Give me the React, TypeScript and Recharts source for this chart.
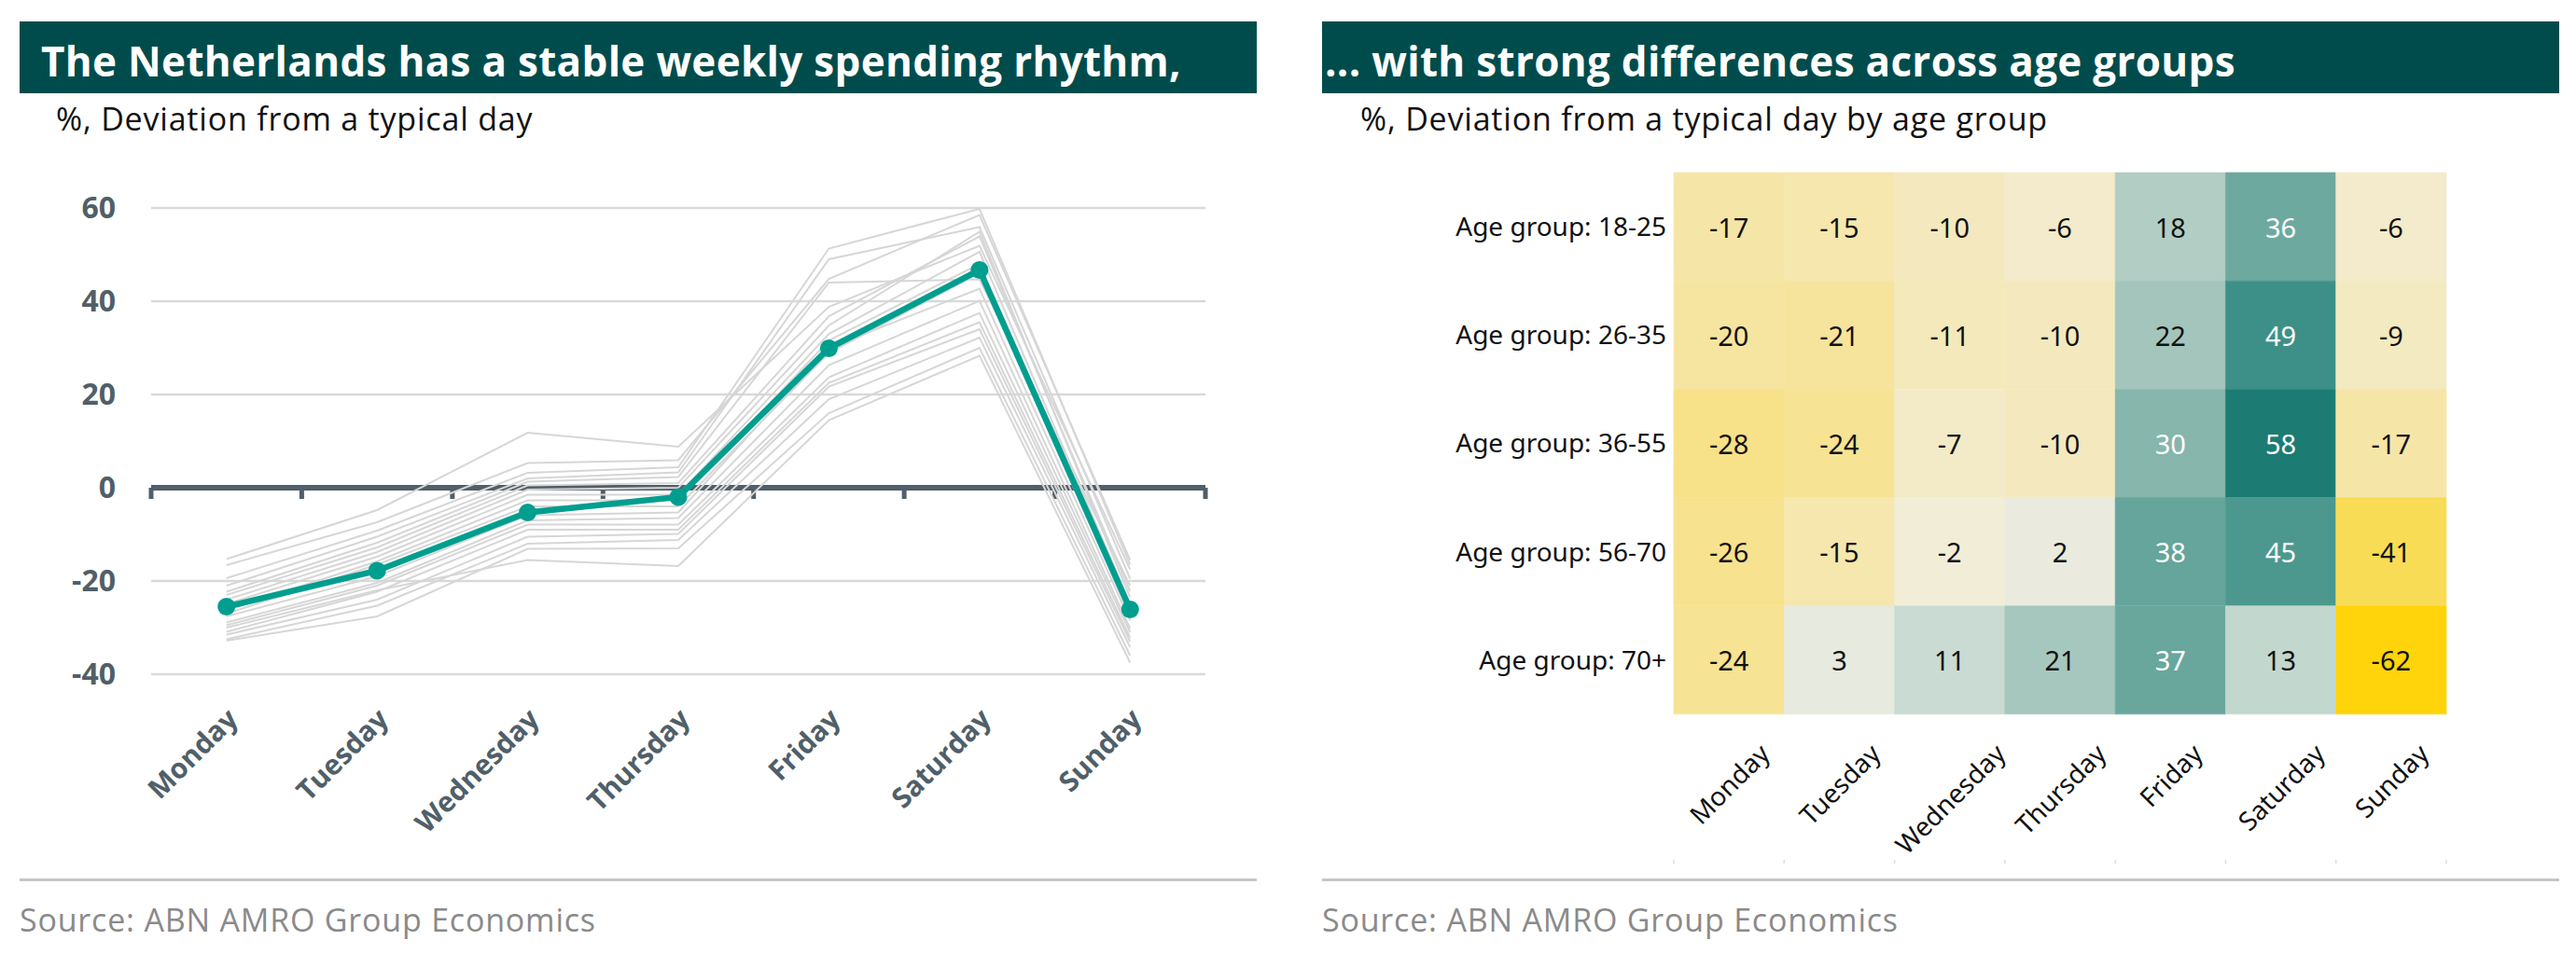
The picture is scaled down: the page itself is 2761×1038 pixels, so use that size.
import React from 'react';
import {
  LineChart,
  Line,
  XAxis,
  YAxis,
  CartesianGrid,
  ReferenceLine,
  BarChart,
  Bar,
  Cell,
  LabelList,
} from 'recharts';

// ---- data ----
const days = ['Monday', 'Tuesday', 'Wednesday', 'Thursday', 'Friday', 'Saturday', 'Sunday'];
const yTicks = [-40, -20, 0, 20, 40, 60];

// national average (green line)
const nlAverage = [-25.5, -17.8, -5.3, -2, 29.9, 46.7, -26.1];

// individual regions (grey lines), Monday..Sunday
const regionLines = [
  [-15.3, -4.8, 11.8, 8.8, 38.8, 51.9, -17.5],
  [-16.6, -7.4, 5.3, 5.9, 44.8, 58.5, -15.5],
  [-19.4, -9.2, 3.2, 4.4, 51.3, 59.8, -16.5],
  [-21, -10.5, 2, 3.3, 49, 55.9, -19.5],
  [-22.3, -11.8, 1.3, 2.3, 44, 44.7, -21],
  [-23, -12.8, 0.5, 1, 36.8, 53.9, -22.2],
  [-24, -13.8, -0.4, 0, 34.8, 54.9, -23.5],
  [-24.9, -14.8, -1.5, -1.5, 33, 50.6, -24.9],
  [-26.3, -15.8, -2.7, -2.7, 31.6, 48, -26],
  [-27, -16.5, -4, -4, 28.9, 46, -27.5],
  [-27.6, -19, -5.9, -5.3, 30, 42.7, -28.5],
  [-28.9, -20.4, -7, -6.5, 26.3, 40.1, -30.2],
  [-29.5, -21, -7.9, -7.9, 23.7, 37.5, -31],
  [-30.9, -22.3, -9, -9, 22.5, 35.5, -32.2],
  [-31.5, -24, -10.5, -9.9, 21.7, 34, -33],
  [-32.5, -25.3, -12, -11.2, 19, 32.2, -34.2],
  [-32.8, -27.6, -13.1, -13, 16, 30, -36],
  [-30, -22, -15.5, -16.8, 14.5, 28.3, -37.5],
];

const ageGroups = ['Age group: 18-25', 'Age group: 26-35', 'Age group: 36-55', 'Age group: 56-70', 'Age group: 70+'];
const age18to25 = [-17, -15, -10, -6, 18, 36, -6];
const age26to35 = [-20, -21, -11, -10, 22, 49, -9];
const age36to55 = [-28, -24, -7, -10, 30, 58, -17];
const age56to70 = [-26, -15, -2, 2, 38, 45, -41];
const age70plus = [-24, 3, 11, 21, 37, 13, -62];
const heatValues = [age18to25, age26to35, age36to55, age56to70, age70plus];

// ---- tables for recharts ----
const lineData = days.map((day, i) => {
  const row: any = { x: i + 0.5, day, nl: nlAverage[i] };
  regionLines.forEach((s, k) => {
    row[`r${k}`] = s[i];
  });
  return row;
});

const heatData = ageGroups.map((group, r) => {
  const row: any = { group };
  heatValues[r].forEach((v, i) => {
    row[`w${i}`] = 1;
    row[`v${i}`] = v;
  });
  return row;
});

// ---- styling helpers ----
const DARK_GREEN = '#004c4c';
const TEAL = '#009e8f';
const SLATE = '#505f69';
const HEAT_FONT = '"Noto Sans"';

const colorStops: [number, string][] = [
  [-62, '#ffd40a'],
  [-41, '#f9dc55'],
  [-28, '#f7e189'],
  [-15, '#f5e7ae'],
  [-6, '#f3ebcb'],
  [0, '#f1eedd'],
  [3, '#e6eadf'],
  [11, '#c9dbd2'],
  [22, '#a3c5bc'],
  [30, '#86b6ac'],
  [38, '#65a59b'],
  [49, '#3d9087'],
  [58, '#1c7c74'],
];

const hex = (c: string) => [1, 3, 5].map((i) => parseInt(c.slice(i, i + 2), 16));

const heatColor = (v: number) => {
  if (v <= colorStops[0][0]) return colorStops[0][1];
  for (let i = 1; i < colorStops.length; i++) {
    const [v1, c1] = colorStops[i];
    if (v <= v1) {
      const [v0, c0] = colorStops[i - 1];
      const t = (v - v0) / (v1 - v0);
      const a = hex(c0);
      const b = hex(c1);
      const m = a.map((n, k) => Math.round(n + (b[k] - n) * t));
      return `rgb(${m[0]},${m[1]},${m[2]})`;
    }
  }
  return colorStops[colorStops.length - 1][1];
};

let measureCtx: CanvasRenderingContext2D | null = null;
const textWidth = (s: string, font: string, fallback: number) => {
  if (!measureCtx) measureCtx = document.createElement('canvas').getContext('2d');
  if (!measureCtx) return s.length * fallback;
  measureCtx.font = font;
  return measureCtx.measureText(s).width;
};

const DayTick = ({ x, y, payload }: any) => {
  const label = days[Math.floor(payload.value)];
  const tx = x + 14;
  const ty = y + 42;
  return (
    <text
      x={tx}
      y={ty}
      textAnchor="end"
      transform={`rotate(-45, ${tx}, ${ty})`}
      fill={SLATE}
      fontFamily="Open Sans"
      fontWeight={700}
      fontSize={30}
    >
      {label}
    </text>
  );
};

const HeatDayTick = ({ x, y, payload }: any) => {
  const v = payload.value;
  if (Number.isInteger(v)) {
    return <line x1={x} x2={x} y1={y + 148} y2={y + 152} stroke="#dddddd" strokeWidth={1.5} />;
  }
  const label = days[Math.floor(v)];
  const w = textWidth(label, '28px "Noto Sans"', 15);
  const cy = y + 21 + 0.3536 * (w + 21);
  return (
    <text
      x={x}
      y={cy}
      textAnchor="middle"
      dominantBaseline="central"
      transform={`rotate(-45, ${x}, ${cy})`}
      fill="#111"
      fontFamily={HEAT_FONT}
      fontSize={28}
    >
      {label}
    </text>
  );
};

const CellLabel = (props: any) => {
  const { x, y, width, height, value } = props;
  return (
    <text
      x={x + width / 2}
      y={y + height / 2}
      textAnchor="middle"
      dominantBaseline="central"
      fill={value >= 30 ? '#ffffff' : '#111111'}
      fontFamily={HEAT_FONT}
      fontSize={29}
    >
      {value}
    </text>
  );
};

const titleStyle: React.CSSProperties = {
  position: 'absolute',
  top: 23,
  height: 77,
  background: DARK_GREEN,
};
const titleText: React.CSSProperties = {
  position: 'absolute',
  top: 16,
  color: '#fff',
  fontFamily: 'Open Sans',
  fontWeight: 700,
  fontSize: 44,
  letterSpacing: 0.3,
  lineHeight: 1.2,
  whiteSpace: 'nowrap',
};
const subtitleStyle: React.CSSProperties = {
  position: 'absolute',
  top: 107,
  fontFamily: 'Open Sans',
  fontSize: 34,
  letterSpacing: 0.8,
  lineHeight: 1.2,
  color: '#111',
  whiteSpace: 'nowrap',
};
const sourceStyle: React.CSSProperties = {
  position: 'absolute',
  top: 966,
  fontFamily: 'Open Sans',
  fontSize: 34,
  letterSpacing: 0.8,
  lineHeight: 1.2,
  color: '#8a8a8a',
  whiteSpace: 'nowrap',
};
const ruleStyle: React.CSSProperties = {
  position: 'absolute',
  top: 942,
  width: 1326,
  height: 3,
  background: '#c6c6c6',
};

const App = () => {
  return (
    <div style={{ position: 'absolute', left: 0, top: 0, width: 2761, height: 1038, background: '#fff', overflow: 'hidden' }}>
      {/* left panel chart */}
      <div style={{ position: 'absolute', left: 0, top: 0 }}>
        <LineChart width={1380} height={940} data={lineData} margin={{ top: 223, right: 88, bottom: 17, left: 0 }}>
          <CartesianGrid vertical={false} stroke="#d9d9d9" strokeWidth={2.5} />
          <XAxis
            type="number"
            dataKey="x"
            domain={[0, 7]}
            ticks={[0.5, 1.5, 2.5, 3.5, 4.5, 5.5, 6.5]}
            interval={0}
            height={200}
            axisLine={false}
            tickLine={false}
            tick={<DayTick />}
          />
          <YAxis
            type="number"
            domain={[-40, 60]}
            ticks={yTicks}
            interval={0}
            width={162}
            axisLine={false}
            tickLine={false}
            tickMargin={32}
            tick={{ fill: SLATE, fontFamily: 'Open Sans', fontWeight: 700, fontSize: 32 }}
          />
          <ReferenceLine y={0} stroke={SLATE} strokeWidth={6} />
          {[0, 1, 2, 3, 4, 5, 6, 7].map((k) => (
            <ReferenceLine
              key={`tick-${k}`}
              segment={[
                { x: k, y: 0 },
                { x: k, y: -2.4 },
              ]}
              stroke={SLATE}
              strokeWidth={5}
            />
          ))}
          {regionLines.map((_, k) => (
            <Line
              key={`r${k}`}
              dataKey={`r${k}`}
              stroke="#d6d6d6"
              strokeWidth={2}
              dot={false}
              activeDot={false}
              isAnimationActive={false}
            />
          ))}
          <Line
            dataKey="nl"
            stroke={TEAL}
            strokeWidth={6.5}
            dot={{ r: 9.5, fill: TEAL, stroke: 'none' }}
            activeDot={false}
            isAnimationActive={false}
          />
        </LineChart>
      </div>

      {/* right panel chart */}
      <div style={{ position: 'absolute', left: 1380, top: 0 }}>
        <BarChart
          width={1381}
          height={940}
          data={heatData}
          layout="vertical"
          barCategoryGap={0}
          margin={{ top: 185, right: 139, bottom: 14, left: 0 }}
        >
          <XAxis
            type="number"
            domain={[0, 7]}
            ticks={[0, 0.5, 1, 1.5, 2, 2.5, 3, 3.5, 4, 4.5, 5, 5.5, 6, 6.5, 7]}
            interval={0}
            height={160}
            axisLine={false}
            tickLine={false}
            tick={<HeatDayTick />}
          />
          <YAxis
            type="category"
            dataKey="group"
            width={414}
            axisLine={false}
            tickLine={false}
            tick={{ fill: '#111', fontFamily: 'Noto Sans', fontSize: 28 }}
          />
          {days.map((day, i) => (
            <Bar key={day} dataKey={`w${i}`} stackId="heat" isAnimationActive={false}>
              {heatData.map((row, r) => (
                <Cell key={`c${r}-${i}`} fill={heatColor(row[`v${i}`])} stroke={heatColor(row[`v${i}`])} strokeWidth={0.6} />
              ))}
              <LabelList dataKey={`v${i}`} content={<CellLabel />} />
            </Bar>
          ))}
        </BarChart>
      </div>

      {/* titles, subtitles, sources */}
      <div style={{ ...titleStyle, left: 21, width: 1326 }}>
        <div style={{ ...titleText, left: 23 }}>The Netherlands has a stable weekly spending rhythm,</div>
      </div>
      <div style={{ ...titleStyle, left: 1417, width: 1326 }}>
        <div style={{ ...titleText, left: 3 }}>... with strong differences across age groups</div>
      </div>
      <div style={{ ...subtitleStyle, left: 60 }}>%, Deviation from a typical day</div>
      <div style={{ ...subtitleStyle, left: 1458 }}>%, Deviation from a typical day by age group</div>

      <div style={{ ...ruleStyle, left: 21 }} />
      <div style={{ ...ruleStyle, left: 1417 }} />
      <div style={{ ...sourceStyle, left: 21 }}>Source: ABN AMRO Group Economics</div>
      <div style={{ ...sourceStyle, left: 1417 }}>Source: ABN AMRO Group Economics</div>
    </div>
  );
};

export default App;
